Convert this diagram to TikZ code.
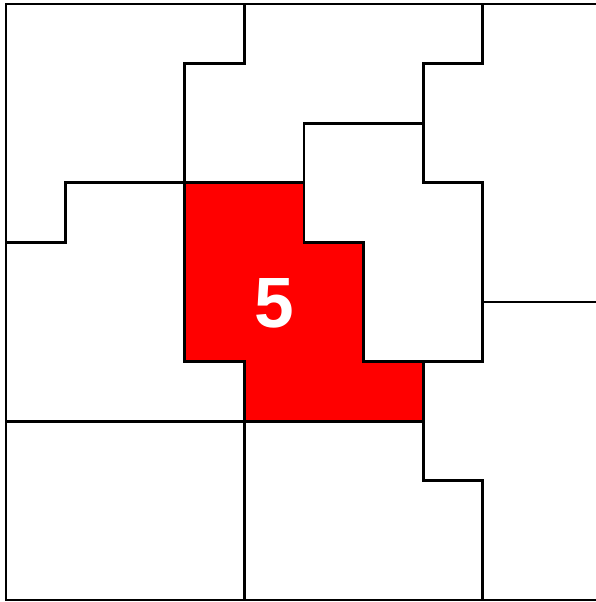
\documentclass[tikz,border=0pt]{standalone}
\usepackage{fontspec}
\setsansfont{Liberation Sans}
\usetikzlibrary{positioning}

\begin{document}
\begin{tikzpicture}[
    x=1cm, y=-1cm,
    wall/.style={draw=black, line width=1.4pt},
    zone/.style={fill=red, draw=black, line width=1.4pt},
    tag/.style={font=\sffamily\bfseries\fontsize{34}{34}\selectfont, text=white}
  ]
  \useasboundingbox (-0.1007,-0.067) rectangle (9.899,10.034);

  % highlighted parcel
  \draw[zone] (3,3) -- (5,3) -- (5,4) -- (6,4) -- (6,6) -- (7,6) -- (7,7)
    -- (4,7) -- (4,6) -- (3,6) -- cycle;
  \node[tag] (five) at (4.5,5.02) {5};

  % outer frame
  \draw[wall] (0,0) rectangle (10,10);

  % parcel borders
  \draw[wall] (4,0) -- (4,1) -- (3,1) -- (3,3);
  \draw[wall] (8,0) -- (8,1) -- (7,1) -- (7,3) -- (8,3) -- (8,6) -- (6,6);
  \draw[wall] (5,3) -- (5,2) -- (7,2);
  \draw[wall] (0,4) -- (1,4) -- (1,3) -- (3,3);
  \draw[wall] (0,7) -- (4,7);
  \draw[wall] (4,7) -- (4,10);
  \draw[wall] (7,7) -- (7,8) -- (8,8) -- (8,10);
  \draw[wall] (8,5) -- (10,5);
\end{tikzpicture}
\end{document}
